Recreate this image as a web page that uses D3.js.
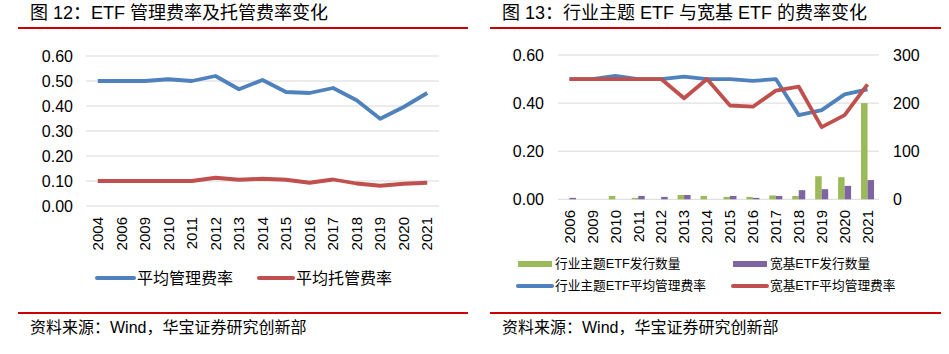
<!DOCTYPE html>
<html>
<head>
<meta charset="utf-8">
<script src="https://cdn.jsdelivr.net/npm/d3@7"></script>
<style>
  body { margin: 0; background: #fff; }
  text { font-family: "Liberation Sans", Arial, "Noto Sans CJK SC", sans-serif; fill: #000; }
  .cjk { font-family: "Liberation Sans", "Noto Sans CJK SC", sans-serif; }
</style>
</head>
<body>
<svg width="949" height="354"></svg>
<script>
// left chart: ETF management / custody fee
const yearsA = ["2004", "2006", "2009", "2010", "2011", "2012", "2013", "2014", "2015", "2016", "2017", "2018", "2019", "2020", "2021"];
const mgmtFee = [0.50, 0.50, 0.50, 0.507, 0.50, 0.52, 0.467, 0.504, 0.456, 0.452, 0.472, 0.423, 0.349, 0.396, 0.452];
const custFee = [0.10, 0.10, 0.10, 0.10, 0.10, 0.113, 0.105, 0.109, 0.105, 0.093, 0.106, 0.09, 0.081, 0.089, 0.093];
const ticksA = [0, 0.1, 0.2, 0.3, 0.4, 0.5, 0.6];

// right chart: sector/theme vs broad-based ETF
const yearsB = ["2006", "2009", "2010", "2011", "2012", "2013", "2014", "2015", "2016", "2017", "2018", "2019", "2020", "2021"];
const themeCount = [0, 0, 7, 3, 0, 9, 7, 5, 5, 8, 7, 48, 46, 200];
const broadCount = [3, 0, 0, 7, 5, 9, 0, 7, 3, 7, 19, 21, 28, 40];
const themeFee = [0.50, 0.50, 0.513, 0.50, 0.50, 0.51, 0.50, 0.50, 0.492, 0.50, 0.35, 0.371, 0.436, 0.457];
const broadFee = [0.50, 0.50, 0.50, 0.50, 0.50, 0.42, 0.50, 0.39, 0.385, 0.452, 0.468, 0.30, 0.35, 0.478];
const ticksBL = [0, 0.2, 0.4, 0.6];
const ticksBR = [0, 100, 200, 300];

const BLUE = "#4F81BD", RED = "#C0504D", GREEN = "#9BBB59", PURPLE = "#8064A2";
const RULE = "#CC0000", GRID = "#D9D9D9";

const svg = d3.select("svg");

function frame(x0, x1, title) {
  svg.append("text").attr("class", "cjk")
    .attr("x", x0 + 12).attr("y", 19)
    .style("font-size", "18px")
    .text(title);
  svg.append("line").attr("x1", x0).attr("x2", x1).attr("y1", 28).attr("y2", 28)
    .attr("stroke", RULE).attr("stroke-width", 2);
  svg.append("line").attr("x1", x0).attr("x2", x1).attr("y1", 313).attr("y2", 313)
    .attr("stroke", RULE).attr("stroke-width", 2);
  svg.append("text").attr("class", "cjk")
    .attr("x", x0 + 12).attr("y", 333)
    .style("font-size", "16px")
    .text("资料来源：Wind，华宝证券研究创新部");
}

frame(18, 468, "图 12：ETF 管理费率及托管费率变化");
frame(490, 941, "图 13：行业主题 ETF 与宽基 ETF 的费率变化");

function xLabels(g, x, cats, top) {
  g.selectAll(".xl").data(cats).join("text")
    .attr("class", "xl")
    .attr("transform", d => `translate(${x(d) + x.bandwidth() / 2},${top}) rotate(-90)`)
    .attr("text-anchor", "end")
    .attr("dy", "0.35em")
    .style("font-size", "15px")
    .text(d => d);
}

function grid(g, y, ticks, x0, x1) {
  g.selectAll(".gl").data(ticks).join("line")
    .attr("class", "gl")
    .attr("x1", x0).attr("x2", x1)
    .attr("y1", d => y(d)).attr("y2", d => y(d))
    .attr("stroke", GRID).attr("stroke-width", 1);
}

function yLabels(g, y, ticks, xPos, anchor, fmt) {
  g.append("g").selectAll("text").data(ticks).join("text")
    .attr("x", xPos).attr("y", d => y(d))
    .attr("dy", "0.35em")
    .attr("text-anchor", anchor)
    .style("font-size", "16px")
    .text(fmt);
}

function drawLine(g, x, y, cats, vals, color) {
  const line = d3.line()
    .x((d, i) => x(cats[i]) + x.bandwidth() / 2)
    .y(d => y(d));
  g.append("path").datum(vals)
    .attr("fill", "none")
    .attr("stroke", color)
    .attr("stroke-width", 3.8)
    .attr("stroke-linejoin", "round")
    .attr("d", line);
}

function legendLine(g, x, y, w, color, label, size) {
  g.append("line").attr("x1", x).attr("x2", x + w).attr("y1", y).attr("y2", y)
    .attr("stroke", color).attr("stroke-width", 4).attr("stroke-linecap", "round");
  g.append("text").attr("class", "cjk").attr("x", x + w + 3).attr("y", y).attr("dy", "0.35em")
    .style("font-size", size).text(label);
}

function legendBox(g, x, y, w, color, label, size) {
  g.append("rect").attr("x", x).attr("y", y - 3).attr("width", w).attr("height", 6)
    .attr("fill", color);
  g.append("text").attr("class", "cjk").attr("x", x + w + 3).attr("y", y).attr("dy", "0.35em")
    .style("font-size", size).text(label);
}

// ---- left chart
{
  const g = svg.append("g");
  const x = d3.scaleBand().domain(yearsA).range([86, 439]);
  const y = d3.scaleLinear().domain([0, 0.6]).range([206, 56]);
  grid(g, y, ticksA, 86, 439);
  yLabels(g, y, ticksA, 73, "end", d3.format(".2f"));
  xLabels(g, x, yearsA, 217);
  drawLine(g, x, y, yearsA, mgmtFee, BLUE);
  drawLine(g, x, y, yearsA, custFee, RED);
  legendLine(g, 97, 278, 37, BLUE, "平均管理费率", "16px");
  legendLine(g, 259, 278, 34, RED, "平均托管费率", "16px");
}

// ---- right chart
{
  const g = svg.append("g");
  const x = d3.scaleBand().domain(yearsB).range([558, 879]);
  const yL = d3.scaleLinear().domain([0, 0.6]).range([199.3, 55]);
  const yR = d3.scaleLinear().domain([0, 300]).range([199.3, 55]);
  grid(g, yL, ticksBL, 558, 879);
  yLabels(g, yL, ticksBL, 544, "end", d3.format(".2f"));
  yLabels(g, yR, ticksBR, 893, "start", d3.format("d"));
  xLabels(g, x, yearsB, 210);

  const bw = 6.5;
  const cx = d => x(d) + x.bandwidth() / 2;
  g.append("g").selectAll("rect").data(yearsB).join("rect")
    .attr("x", d => cx(d) - bw)
    .attr("width", bw)
    .attr("y", (d, i) => yR(themeCount[i]))
    .attr("height", (d, i) => yR(0) - yR(themeCount[i]))
    .attr("fill", GREEN);
  g.append("g").selectAll("rect").data(yearsB).join("rect")
    .attr("x", d => cx(d))
    .attr("width", bw)
    .attr("y", (d, i) => yR(broadCount[i]))
    .attr("height", (d, i) => yR(0) - yR(broadCount[i]))
    .attr("fill", PURPLE);

  drawLine(g, x, yL, yearsB, themeFee, BLUE);
  drawLine(g, x, yL, yearsB, broadFee, RED);

  legendBox(g, 518, 264, 34, GREEN, "行业主题ETF发行数量", "12.7px");
  legendBox(g, 733, 264, 34, PURPLE, "宽基ETF发行数量", "12.7px");
  legendLine(g, 518, 286, 34, BLUE, "行业主题ETF平均管理费率", "12.7px");
  legendLine(g, 733, 286, 34, RED, "宽基ETF平均管理费率", "12.7px");
}
</script>
</body>
</html>
